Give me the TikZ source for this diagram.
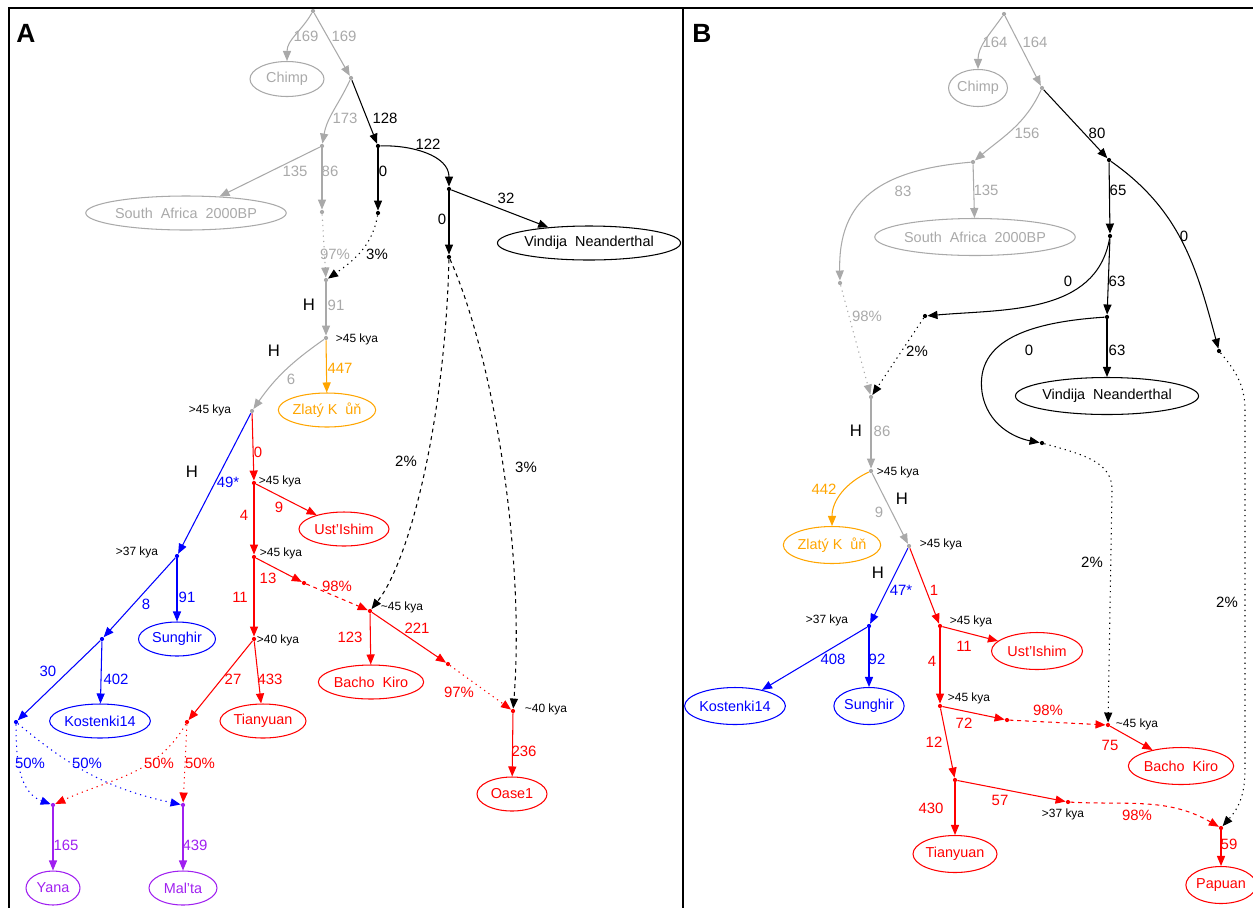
\documentclass[tikz,border=0pt]{standalone}
\usepackage{fontspec}
\setmainfont{Liberation Sans}
\usetikzlibrary{arrows.meta,shapes.geometric}
\definecolor{gr}{HTML}{A9A9A9}
\definecolor{org}{HTML}{FFA500}
\definecolor{pur}{HTML}{A020F0}
\definecolor{rd}{HTML}{FF0000}
\definecolor{bl}{HTML}{0000FF}
\tikzset{
  lbl/.style={font=\fontsize{8.5}{10}\selectfont, inner sep=0pt},
  kyal/.style={font=\fontsize{6.8}{8}\selectfont, inner sep=0pt, text=black},
  hl/.style={font=\fontsize{9.5}{11}\selectfont, inner sep=0pt, text=black},
  pt/.style={circle, fill=#1, draw=none, inner sep=0pt, minimum size=2.4pt},
  ell/.style={ellipse, draw=#1, text=#1, inner sep=0pt, line width=0.6pt, font=\fontsize{8.2}{10}\selectfont},
  sz/.style 2 args={minimum width=#1*0.02cm, minimum height=#2*0.02cm},
  ed/.style={color=#1, line width=0.6pt, -{Triangle[length=5.7pt,width=4.6pt]}},
  dotl/.style={dash pattern=on 0.7pt off 2.3pt},
  dashl/.style={dash pattern=on 2.2pt off 2.2pt},
  panel/.style={font=\bfseries\fontsize{15}{18}\selectfont, inner sep=0pt}
}
\newcommand\mylab[4]{\node[lbl,text=#2] (#1) at (#3) {#4};}
\newcommand\mykya[3]{\node[kyal] (#1) at (#2) {#3};}
\newcommand\myH[2]{\node[hl] (#1) at (#2) {H};}
\begin{document}
\begin{tikzpicture}[x=0.02cm,y=-0.02cm]
\useasboundingbox (0,0) rectangle (1253,907);
\draw[line width=1.3pt] (9,912) -- (9,8) -- (1258,8);
\draw[line width=1.3pt] (683,8) -- (683,912);
\node[panel] (pA) at (26,33) {A};
\node[panel] (pB) at (702,33) {B};

% ---------------- Panel A ----------------
\node[pt=gr] (a0) at (313,11) {};
\node[pt=gr] (a1) at (351,78) {};
\node[pt=gr] (a2) at (322,146) {};
\node[pt=black] (a3) at (378,146) {};
\node[pt=gr] (a4) at (322,212) {};
\node[pt=black] (a5) at (378,213) {};
\node[pt=black] (a6) at (449,189) {};
\node[pt=black] (a7) at (449,257) {};
\node[pt=gr] (a8) at (326,280) {};
\node[pt=gr] (a9) at (326,338) {};
\node[pt=gr] (a10) at (252,411) {};
\node[pt=rd] (a11) at (254,483) {};
\node[pt=rd] (a12) at (254,557) {};
\node[pt=rd] (a13) at (304,583) {};
\node[pt=rd] (a14) at (370,611) {};
\node[pt=rd] (a15) at (513,711) {};
\node[pt=rd] (a16) at (448,664) {};
\node[pt=rd] (a17) at (254,639) {};
\node[pt=rd] (a18) at (187,722) {};
\node[pt=bl] (a19) at (177,556) {};
\node[pt=bl] (a20) at (102,639) {};
\node[pt=bl] (a21) at (16,722) {};
\node[pt=pur] (a22) at (53,805) {};
\node[pt=pur] (a23) at (183,805) {};

\node[ell=gr, sz={74}{35}] (aChimp) at (287,79) {Chimp};
\node[ell=gr, sz={182}{34}] (aSA) at (186,213) {South~~Africa~~2000BP};
\node[ell=black, sz={182}{34}] (aVin) at (589,243) {Vindija~~Neanderthal};
\node[ell=org, sz={86}{34}] (aZla) at (327,410) {Zlatý K~~ůň};
\node[ell=rd, sz={90}{34}] (aUst) at (344,529) {Ust'Ishim};
\node[ell=rd, sz={102}{34}] (aBac) at (371,682) {Bacho~~Kiro};
\node[ell=rd, sz={70}{34}] (aOas) at (512,794) {Oase1};
\node[ell=rd, sz={86}{34}] (aTia) at (263,721) {Tianyuan};
\node[ell=bl, sz={77}{34}] (aSun) at (177,639) {Sunghir};
\node[ell=bl, sz={98}{34}] (aKos) at (100,721) {Kostenki14};
\node[ell=pur, sz={54}{34}] (aYan) at (53,888) {Yana};
\node[ell=pur, sz={68}{34}] (aMal) at (183,888) {Mal'ta};

\draw[ed=gr] (a0) to[out=240,in=90] (aChimp);
\draw[ed=gr] (a0) -- (a1);
\draw[ed=gr] (a1) to[out=245,in=80] (a2);
\draw[ed=black] (a1) -- (a3);
\draw[ed=gr] (a2) -- (aSA);
\draw[ed=gr] (a2) -- (a4);
\draw[ed=black] (a3) -- (a5);
\draw[ed=black] (a3) to[out=2,in=90] (a6);
\draw[ed=black] (a6) -- (aVin);
\draw[ed=black] (a6) -- (a7);
\draw[ed=gr,dotl] (a4) -- (a8);
\draw[ed=black,dotl] (a5) to[out=260,in=35] (a8);
\draw[ed=gr] (a8) -- (a9);
\draw[ed=org] (a9) -- (aZla);
\draw[ed=gr] (a9) to[out=215,in=55] (a10);
\draw[ed=rd] (a10) -- (a11);
\draw[ed=bl] (a10) -- (a19);
\draw[ed=rd] (a11) -- (aUst);
\draw[ed=rd] (a11) -- (a12);
\draw[ed=rd] (a12) -- (a13);
\draw[ed=rd,dashl] (a13) -- (a14);
\draw[ed=black,dashl] (a7) .. controls (445,420) and (410,560) .. (a14);
\draw[ed=black,dashl] (a7) .. controls (495,360) and (525,560) .. (a15);
\draw[ed=rd] (a14) -- (aBac);
\draw[ed=rd] (a14) -- (a16);
\draw[ed=rd,dotl] (a16) -- (a15);
\draw[ed=rd] (a15) -- (aOas);
\draw[ed=rd] (a12) -- (a17);
\draw[ed=rd] (a17) -- (aTia);
\draw[ed=rd] (a17) -- (a18);
\draw[ed=bl] (a19) -- (aSun);
\draw[ed=bl] (a19) -- (a20);
\draw[ed=bl] (a20) -- (aKos);
\draw[ed=bl] (a20) -- (a21);
\draw[ed=bl,dotl] (a21) to[out=270,in=160] (a22);
\draw[ed=bl,dotl] (a21) to[out=-40,in=168] (a23);
\draw[ed=rd,dotl] (a18) to[out=240,in=25] (a22);
\draw[ed=rd,dotl] (a18) -- (a23);
\draw[ed=pur] (a22) -- (aYan);
\draw[ed=pur] (a23) -- (aMal);

\mylab{la1}{gr}{306,36}{169}
\mylab{la2}{gr}{344,36}{169}
\mylab{la3}{gr}{345,118}{173}
\mylab{la4}{black}{385,118}{128}
\mylab{la5}{gr}{295,171}{135}
\mylab{la6}{gr}{330,171}{86}
\mylab{la7}{black}{383,171}{0}
\mylab{la8}{black}{428,144}{122}
\mylab{la9}{black}{506,198}{32}
\mylab{la10}{black}{442,219}{0}
\mylab{la11}{gr}{335,254}{97\%}
\mylab{la12}{black}{377,254}{3\%}
\myH{ha1}{309,305}
\mylab{la13}{gr}{336,305}{91}
\mykya{ka1}{357,339}{>45 kya}
\mylab{la14}{org}{340,368}{447}
\myH{ha2}{274,351}
\mylab{la15}{gr}{291,379}{6}
\mykya{ka2}{210,410}{>45 kya}
\mylab{la16}{rd}{258,452}{0}
\myH{ha3}{192,472}
\mylab{la17}{bl}{228,482}{49*}
\mykya{ka3}{280,481}{>45 kya}
\mylab{la18}{rd}{279,507}{9}
\mylab{la19}{rd}{244,515}{4}
\mykya{ka4}{137,552}{>37 kya}
\mykya{ka5}{281,553}{>45 kya}
\mylab{la20}{rd}{268,578}{13}
\mylab{la21}{rd}{337,586}{98\%}
\mylab{la22}{bl}{187,597}{91}
\mylab{la23}{rd}{240,597}{11}
\mylab{la24}{bl}{146,604}{8}
\mylab{la25}{black}{406,461}{2\%}
\mylab{la26}{black}{526,467}{3\%}
\mykya{ka6}{402,607}{\textasciitilde 45 kya}
\mylab{la27}{rd}{350,637}{123}
\mylab{la28}{rd}{417,628}{221}
\mykya{ka7}{278,640}{>40 kya}
\mylab{la29}{bl}{48,671}{30}
\mylab{la30}{bl}{116,679}{402}
\mylab{la31}{rd}{233,679}{27}
\mylab{la32}{rd}{270,679}{433}
\mylab{la33}{rd}{459,692}{97\%}
\mykya{ka8}{546,709}{\textasciitilde 40 kya}
\mylab{la34}{rd}{524,751}{236}
\mylab{la35}{bl}{30,763}{50\%}
\mylab{la36}{bl}{87,763}{50\%}
\mylab{la37}{rd}{159,763}{50\%}
\mylab{la38}{rd}{200,763}{50\%}
\mylab{la39}{pur}{66,845}{165}
\mylab{la40}{pur}{195,845}{439}

% ---------------- Panel B ----------------
\node[pt=gr] (b0) at (1004,14) {};
\node[pt=gr] (b1) at (1042,88) {};
\node[pt=gr] (b2) at (973,162) {};
\node[pt=black] (b3) at (1109,160) {};
\node[pt=gr] (b4) at (840,283) {};
\node[pt=black] (b5) at (1110,236) {};
\node[pt=black] (b6) at (1219,351) {};
\node[pt=black] (b7) at (925,316) {};
\node[pt=black] (b8) at (1107,317) {};
\node[pt=black] (b9) at (1042,443) {};
\node[pt=gr] (b10) at (871,397) {};
\node[pt=gr] (b11) at (871,471) {};
\node[pt=gr] (b12) at (909,546) {};
\node[pt=bl] (b13) at (869,626) {};
\node[pt=rd] (b14) at (940,626) {};
\node[pt=rd] (b15) at (940,706) {};
\node[pt=rd] (b16) at (1007,720) {};
\node[pt=rd] (b17) at (1108,725) {};
\node[pt=rd] (b18) at (955,780) {};
\node[pt=rd] (b19) at (1068,802) {};
\node[pt=rd] (b20) at (1221,828) {};

\node[ell=gr, sz={58}{37}] (bChimp) at (978,88) {Chimp};
\node[ell=gr, sz={182}{37}] (bSA) at (975,237) {South~~Africa~~2000BP};
\node[ell=black, sz={177}{37}] (bVin) at (1107,396) {Vindija~~Neanderthal};
\node[ell=org, sz={82}{37}] (bZla) at (832,545) {Zlatý K~~ůň};
\node[ell=bl, sz={96}{37}] (bKos) at (735,706) {Kostenki14};
\node[ell=bl, sz={68}{37}] (bSun) at (869,706) {Sunghir};
\node[ell=rd, sz={91}{37}] (bUst) at (1037,651) {Ust'Ishim};
\node[ell=rd, sz={100}{37}] (bBac) at (1181,766) {Bacho~~Kiro};
\node[ell=rd, sz={84}{37}] (bTia) at (955,854) {Tianyuan};
\node[ell=rd, sz={64}{37}] (bPap) at (1221,885) {Papuan};

\draw[ed=gr] (b0) to[out=235,in=90] (bChimp);
\draw[ed=gr] (b0) -- (b1);
\draw[ed=gr] (b1) to[out=245,in=40] (b2);
\draw[ed=black] (b1) -- (b3);
\draw[ed=gr] (b2) -- (bSA);
\draw[ed=gr] (b2) .. controls (880,170) and (838,200) .. (b4);
\draw[ed=black] (b3) -- (b5);
\draw[ed=black] (b3) to[out=-35,in=105] (b6);
\draw[ed=black] (b5) to[out=260,in=5] (b7);
\draw[ed=black] (b5) -- (b8);
\draw[ed=black] (b8) -- (bVin);
\draw[ed=black] (b8) .. controls (1030,322) and (975,340) .. (982,392) .. controls (987,425) and (1015,438) .. (b9);
\draw[ed=gr,dotl] (b4) -- (b10);
\draw[ed=black,dotl] (b7) -- (b10);
\draw[ed=gr] (b10) -- (b11);
\draw[ed=org] (b11) to[out=205,in=90] (bZla);
\draw[ed=gr] (b11) -- (b12);
\draw[ed=bl] (b12) -- (b13);
\draw[ed=rd] (b12) -- (b14);
\draw[ed=bl] (b13) -- (bKos);
\draw[ed=bl] (b13) -- (bSun);
\draw[ed=rd] (b14) -- (bUst);
\draw[ed=rd] (b14) -- (b15);
\draw[ed=rd] (b15) -- (b16);
\draw[ed=rd,dashl] (b16) -- (b17);
\draw[ed=black,dotl] (b9) .. controls (1085,455) and (1112,462) .. (1112,490) -- (b17);
\draw[ed=rd] (b17) -- (bBac);
\draw[ed=rd] (b15) -- (b18);
\draw[ed=rd] (b18) -- (bTia);
\draw[ed=rd] (b18) -- (b19);
\draw[ed=rd,dashl] (b19) to[out=-3,in=150] (b20);
\draw[ed=black,dotl] (b6) .. controls (1235,370) and (1245,385) .. (1245,410) -- (1245,770) .. controls (1245,800) and (1235,812) .. (b20);
\draw[ed=rd] (b20) -- (bPap);

\mylab{lb1}{gr}{995,42}{164}
\mylab{lb2}{gr}{1035,42}{164}
\mylab{lb3}{gr}{1027,133}{156}
\mylab{lb4}{black}{1097,133}{80}
\mylab{lb5}{gr}{903,191}{83}
\mylab{lb6}{gr}{986,190}{135}
\mylab{lb7}{black}{1118,190}{65}
\mylab{lb8}{black}{1184,236}{0}
\mylab{lb9}{black}{1068,281}{0}
\mylab{lb10}{black}{1117,281}{63}
\mylab{lb11}{gr}{867,316}{98\%}
\mylab{lb12}{black}{917,351}{2\%}
\mylab{lb13}{black}{1029,350}{0}
\mylab{lb14}{black}{1117,350}{63}
\myH{hb1}{856,431}
\mylab{lb15}{gr}{882,431}{86}
\mykya{kb1}{898,472}{>45 kya}
\mylab{lb16}{org}{824,489}{442}
\myH{hb2}{902,499}
\mylab{lb17}{gr}{879,512}{9}
\mykya{kb2}{941,544}{>45 kya}
\mylab{lb18}{black}{1092,562}{2\%}
\myH{hb3}{878,573}
\mylab{lb19}{bl}{901,590}{47*}
\mylab{lb20}{rd}{934,590}{1}
\mylab{lb21}{black}{1227,602}{2\%}
\mykya{kb3}{827,620}{>37 kya}
\mykya{kb4}{971,621}{>45 kya}
\mylab{lb22}{rd}{964,646}{11}
\mylab{lb23}{bl}{833,659}{408}
\mylab{lb24}{bl}{877,659}{92}
\mylab{lb25}{rd}{932,661}{4}
\mykya{kb5}{969,698}{>45 kya}
\mylab{lb26}{rd}{1048,710}{98\%}
\mylab{lb27}{rd}{964,723}{72}
\mykya{kb6}{1137,724}{\textasciitilde 45 kya}
\mylab{lb28}{rd}{934,742}{12}
\mylab{lb29}{rd}{1110,745}{75}
\mylab{lb30}{rd}{1000,800}{57}
\mylab{lb31}{rd}{931,808}{430}
\mykya{kb7}{1063,814}{>37 kya}
\mylab{lb32}{rd}{1137,815}{98\%}
\mylab{lb33}{rd}{1229,844}{59}
\end{tikzpicture}
\end{document}
